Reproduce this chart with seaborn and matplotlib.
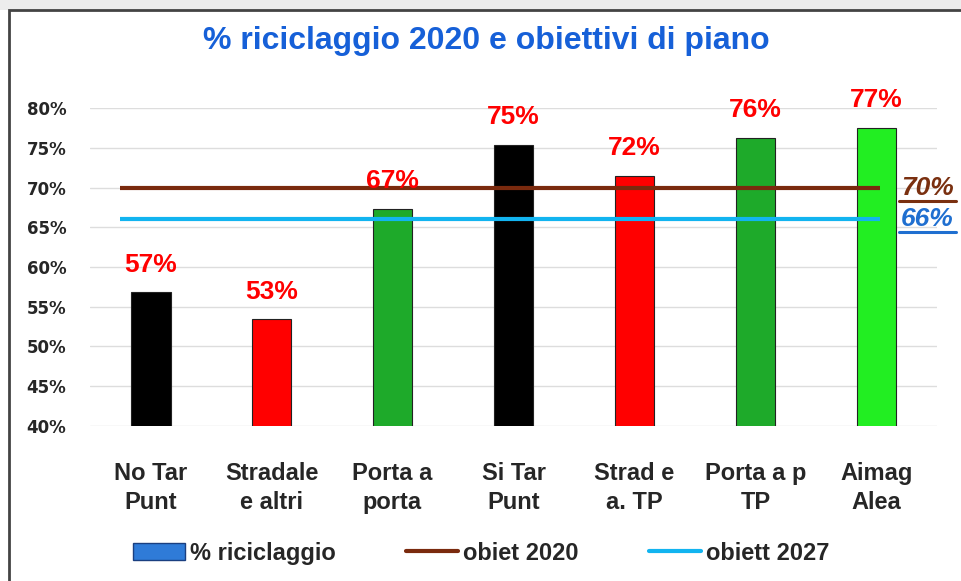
import matplotlib
matplotlib.use("Agg")
import matplotlib.pyplot as plt
import seaborn as sns
import pandas as pd
from matplotlib.patches import Patch, Rectangle
from matplotlib.lines import Line2D
from matplotlib.ticker import PercentFormatter

# data
categories = ["No Tar\nPunt", "Stradale\ne altri", "Porta a\nporta", "Si Tar\nPunt",
              "Strad e\na. TP", "Porta a p\nTP", "Aimag\nAlea"]
riciclaggio = [56.8, 53.4, 67.3, 75.4, 71.5, 76.2, 77.5]
bar_labels = ["57%", "53%", "67%", "75%", "72%", "76%", "77%"]
bar_colors = ["#000000", "#FF0000", "#1EAA2A", "#000000", "#FF0000", "#1EAA2A", "#22EE22"]
obiet_2020 = 70
obiett_2027 = 66

sns.set_theme(style="white")
plt.rcParams["font.family"] = ["Liberation Sans", "DejaVu Sans"]

fig = plt.figure(figsize=(9.62, 5.81), dpi=100)
ax = fig.add_axes([0.0936, 0.2668, 0.8804, 0.5473])

df = pd.DataFrame({"cat": categories, "val": riciclaggio})
sns.barplot(data=df, x="cat", y="val", hue="cat", palette=bar_colors, legend=False,
            saturation=1, width=0.33, edgecolor="#222222", linewidth=0.8, ax=ax, zorder=3)

ax.set_ylim(40, 80)
ax.set_yticks(range(40, 81, 5))
ax.yaxis.set_major_formatter(PercentFormatter(decimals=0))
ax.grid(axis="y", color="#DDDDDD", linewidth=1, zorder=0)
ax.set_axisbelow(True)
ax.set_xlim(-0.5, len(categories) - 0.5)
for s in ax.spines.values():
    s.set_visible(False)
ax.set_xlabel("")
ax.set_ylabel("")
ax.tick_params(axis="y", length=0, pad=17)
ax.tick_params(axis="x", length=0, pad=26)
for t in ax.get_yticklabels():
    t.set_fontfamily("DejaVu Sans")
    t.set_fontweight("bold")
    t.set_fontsize(12)
for t in ax.get_xticklabels():
    t.set_fontweight("bold")
    t.set_fontsize(17)
    t.set_linespacing(1.35)

# target lines
ax.hlines(obiet_2020, -0.25, 6.03, color="#7A2A0E", linewidth=3, zorder=4)
ax.hlines(obiett_2027, -0.25, 6.03, color="#12B4F0", linewidth=3, zorder=4)

# value labels
for i, (v, lab) in enumerate(zip(riciclaggio, bar_labels)):
    ax.annotate(lab, (i, v), xytext=(0, 15), textcoords="offset points",
                ha="center", va="baseline", color="#FF0000", fontsize=19,
                fontweight="bold", annotation_clip=False, zorder=5)

# labels for target lines, underlined
right_texts = [(obiet_2020, "70%", "#7A3010"), (obiett_2027, "66%", "#1F6FD0")]
fig.canvas.draw()
for y, lab, col in right_texts:
    t = ax.annotate(lab, (1, y), xycoords=("axes fraction", "data"), xytext=(-26, 0),
                    textcoords="offset points", ha="left", va="center", color=col,
                    fontsize=19, fontweight="bold", style="italic", annotation_clip=False)
    fig.canvas.draw()
    bb = t.get_window_extent()
    inv = fig.transFigure.inverted()
    (x0, y0), (x1, _) = inv.transform([(bb.x0 - 2, bb.y0 - 1), (bb.x1 + 2, bb.y0)])
    fig.add_artist(Line2D([x0, x1], [y0, y0], color=col, linewidth=2.2))

fig.suptitle("% riciclaggio 2020 e obiettivi di piano", x=0.506, y=0.955,
             color="#1660D8", fontsize=23, fontweight="bold")

handles = [Patch(facecolor="#2F7BD8", edgecolor="#1A3F80", label="% riciclaggio"),
           Line2D([], [], color="#7A2A0E", linewidth=3, label="obiet 2020"),
           Line2D([], [], color="#12B4F0", linewidth=3, label="obiett 2027")]
fig.legend(handles=handles, loc="center", bbox_to_anchor=(0.5, 0.048), ncol=3,
           frameon=False, prop={"size": 17, "weight": "bold"}, handlelength=2.2,
           handletextpad=0.2, columnspacing=3.0)

# screenshot band and outer frame
fig.add_artist(Rectangle((0, 0.983), 1, 0.02, transform=fig.transFigure,
                         facecolor="#EDEDED", edgecolor="none"))
fig.add_artist(Rectangle((0.009, -0.05), 1.2, 1.033, transform=fig.transFigure,
                         fill=False, edgecolor="#444444", linewidth=2))

fig.savefig("out.png", dpi=100)
